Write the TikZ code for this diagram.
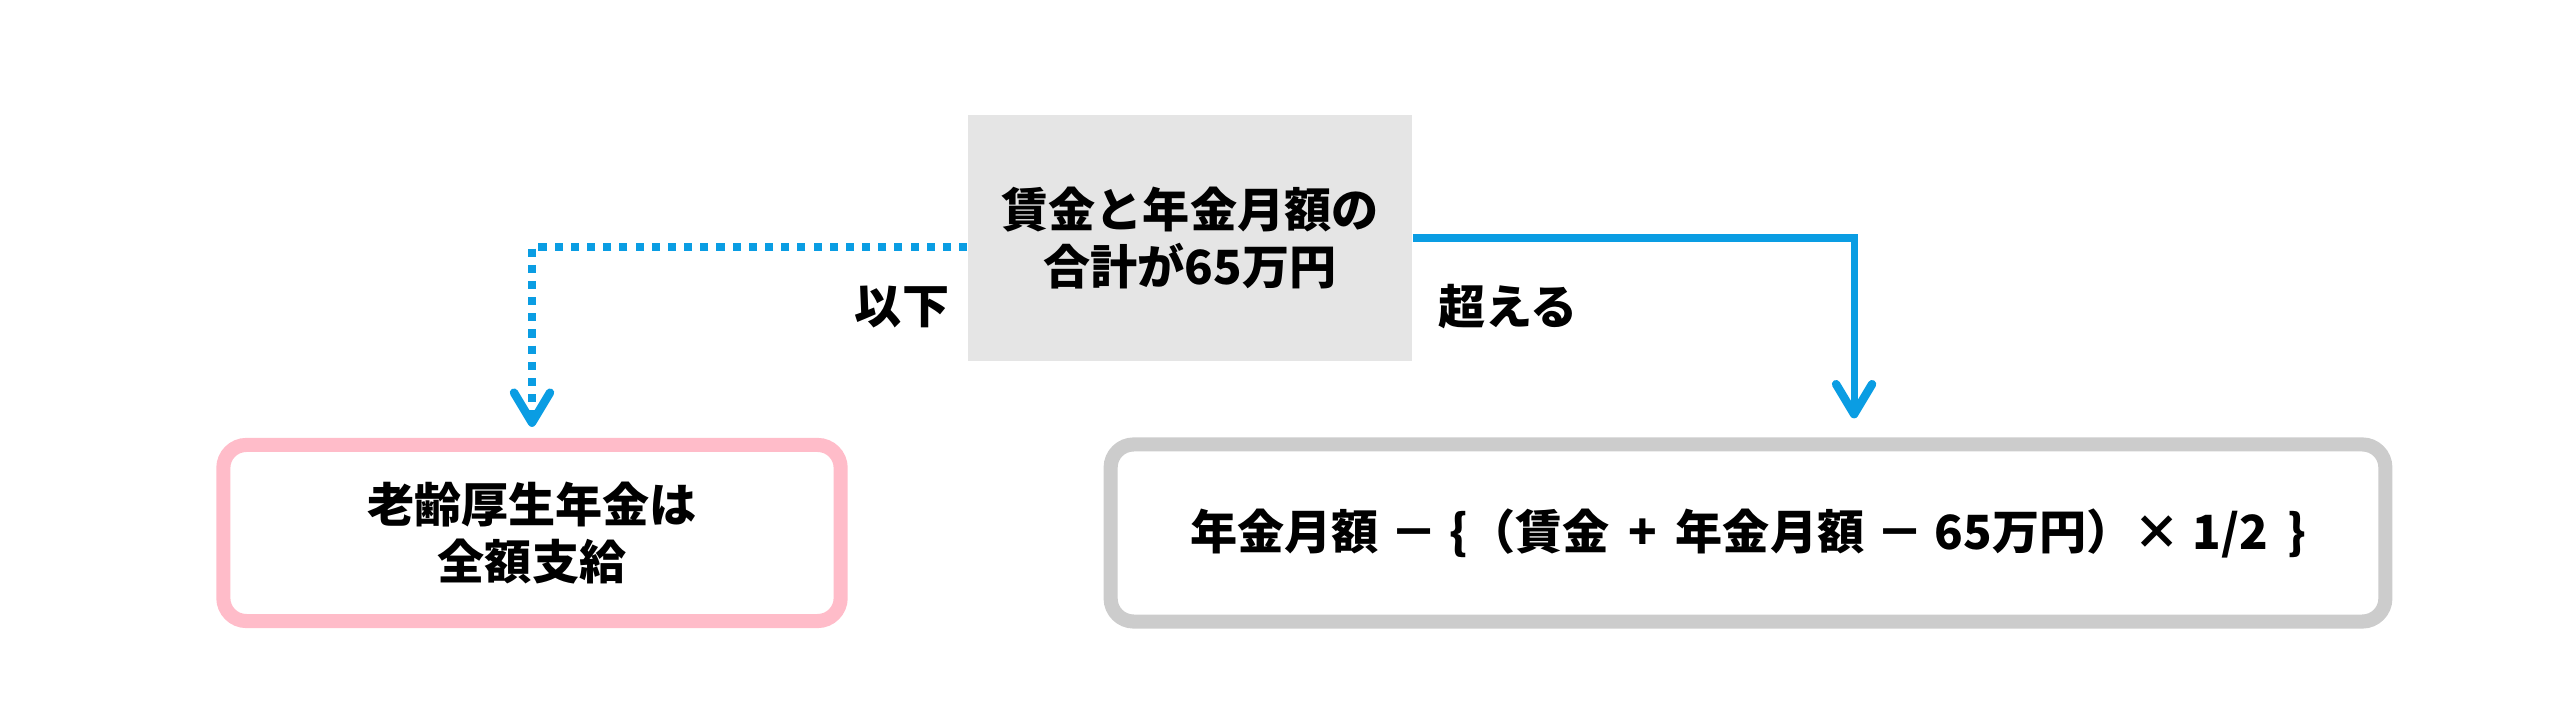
\documentclass[tikz,border=0pt]{standalone}
\usepackage{fontspec}
\setmainfont{Noto Sans CJK JP}
\usetikzlibrary{arrows.meta,positioning}
\definecolor{flowblue}{HTML}{0A9DE3}
\definecolor{condgray}{HTML}{E5E5E5}
\definecolor{pinkline}{HTML}{FFBCC9}
\definecolor{grayline}{HTML}{CCCCCC}
\newcommand\opgap{\hspace{0.4em}}
\newcommand\mingap{\hspace{0.25em}}

\begin{document}
\begin{tikzpicture}[x=0.01cm, y=-0.01cm,
    box/.style={align=center, font=\bfseries\fontsize{13.4}{16.3}\selectfont},
    condbox/.style={box, fill=condgray, minimum width=4.44cm, minimum height=2.46cm},
    resultbox/.style={box, draw, line width=4pt, rounded corners=0.23cm, fill=white},
    lbl/.style={font=\bfseries\fontsize{13.4}{16}\selectfont},
    flow/.style={flowblue, line width=2pt, -{Straight Barb[length=0.3cm, width=0.36cm, line width=2.4pt, round]}}]
  \useasboundingbox (0,0) rectangle (2560,716);

  % condition box
  \node[condbox] (cond) at (1190,238) {賃金と年金月額の\\合計が65万円};

  % result boxes
  \node[resultbox, draw=pinkline, minimum width=6.17cm, minimum height=1.76cm] (full) at (532,533) {老齢厚生年金は\\全額支給};
  \node[resultbox, draw=grayline, minimum width=12.74cm, minimum height=1.77cm] (cut) at (1748,533)
    {年金月額\mingap{}－\mingap{}\{（賃金\opgap{}+\opgap{}年金月額\mingap{}－\mingap{}65万円）×\mingap{}1/2\opgap{}\}};

  % branch labels
  \node[lbl] (under) at (902,307) {以下};
  \node[lbl] (over) at (1508,307) {超える};

  % connectors
  \draw[flow, dash pattern=on 2.3pt off 2.3pt, shorten >=0.11cm] ([yshift=-0.09cm]cond.west) -| (full.north);
  \draw[flow, shorten >=0.19cm] (cond.east) -| ([xshift=1.06cm]cut.north);
\end{tikzpicture}
\end{document}
